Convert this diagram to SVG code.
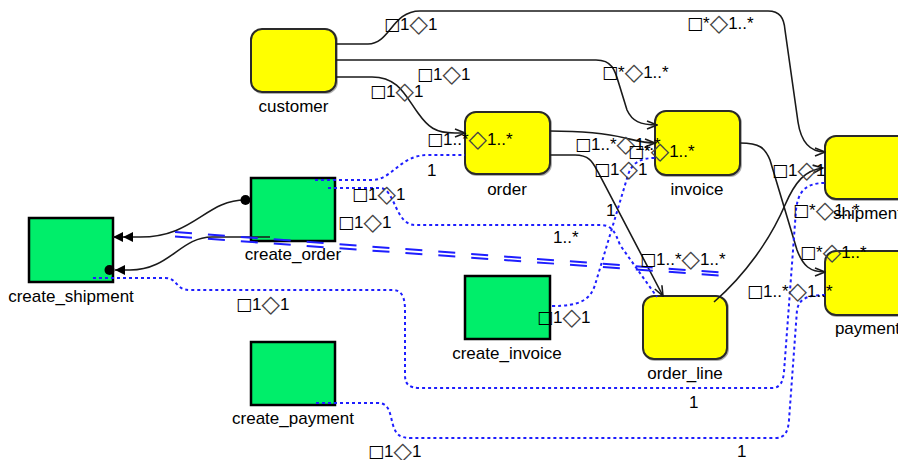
<svg xmlns="http://www.w3.org/2000/svg" width="898" height="460" viewBox="0 0 898 460">
  <style>
    text { font-family: "Liberation Sans", Arial, "DejaVu Sans", sans-serif; font-size: 17px; fill: #000; }
    .name { text-anchor: middle; }
    .sq { font-family: "DejaVu Sans", sans-serif; }
    .dm { font-family: "DejaVu Sans", sans-serif; font-size: 24px; fill: #444; }
    .entity { fill: #ffff00; stroke: #2a2a2a; stroke-width: 2; }
    .shadow { fill: none; stroke: #b0b0b0; stroke-width: 2; }
    .process { fill: #00ee6a; stroke: #000; stroke-width: 2.5; }
    .rel { fill: none; stroke: #1a1a1a; stroke-width: 1.6; }
    .flow { fill: none; stroke: #1e1eff; stroke-width: 2; stroke-dasharray: 3 3; }
    .pair { fill: none; stroke: #1e1eff; stroke-width: 2; stroke-dasharray: 17 16; }
  </style>
  <defs>
    <marker id="open" viewBox="0 0 12 10" refX="11" refY="5" markerWidth="12" markerHeight="10" markerUnits="userSpaceOnUse" orient="auto">
      <path d="M1,1 L11,5 L1,9" fill="none" stroke="#1a1a1a" stroke-width="1.6"/>
    </marker>
    <marker id="double" viewBox="0 0 20 11" refX="20" refY="5.5" markerWidth="20" markerHeight="11" markerUnits="userSpaceOnUse" orient="auto">
      <path d="M0,0.5 L10,5.5 L0,10.5 Z M10,0.5 L20,5.5 L10,10.5 Z" fill="#000"/>
    </marker>
    <marker id="dotarrow" viewBox="0 0 21 11" refX="10" refY="5.5" markerWidth="21" markerHeight="11" markerUnits="userSpaceOnUse" orient="auto">
      <path d="M0,0.5 L10,5.5 L0,10.5 Z" fill="#000"/>
      <circle cx="15.5" cy="5.5" r="5" fill="#000"/>
    </marker>
    <marker id="dot" viewBox="0 0 11 11" refX="5.5" refY="5.5" markerWidth="11" markerHeight="11" markerUnits="userSpaceOnUse">
      <circle cx="5.5" cy="5.5" r="5" fill="#000"/>
    </marker>
  </defs>

  <rect width="898" height="460" fill="#fff"/>

  <!-- entities -->
  <g id="customer">
    <rect class="shadow" x="252" y="30" width="85" height="63" rx="11"/>
    <rect class="entity" x="251" y="29" width="85" height="63" rx="11"/>
    <text class="name" x="293.5" y="112">customer</text>
  </g>
  <g id="order">
    <rect class="shadow" x="466" y="113" width="85" height="62" rx="11"/>
    <rect class="entity" x="465" y="112" width="85" height="62" rx="11"/>
    <text class="name" x="507" y="195">order</text>
  </g>
  <g id="invoice">
    <rect class="shadow" x="656" y="112" width="85" height="64" rx="11"/>
    <rect class="entity" x="655" y="111" width="85" height="64" rx="11"/>
    <text class="name" x="697" y="195">invoice</text>
  </g>
  <g id="shipment">
    <rect class="shadow" x="826" y="137" width="85" height="63" rx="11"/>
    <rect class="entity" x="825" y="136" width="85" height="63" rx="11"/>
    <text class="name" x="867.5" y="219">shipment</text>
  </g>
  <g id="payment">
    <rect class="shadow" x="826" y="252" width="85" height="64" rx="11"/>
    <rect class="entity" x="825" y="251" width="85" height="64" rx="11"/>
    <text class="name" x="867.5" y="334">payment</text>
  </g>
  <g id="order_line">
    <rect class="shadow" x="644" y="297" width="84" height="63" rx="11"/>
    <rect class="entity" x="643" y="296" width="84" height="63" rx="11"/>
    <text class="name" x="685" y="379">order_line</text>
  </g>

  <!-- processes -->
  <g id="create_order">
    <rect class="process" x="251" y="178" width="84" height="63"/>
    <text class="name" x="293" y="260">create_order</text>
  </g>
  <g id="create_shipment">
    <rect class="process" x="29" y="218" width="84" height="64"/>
    <text class="name" x="71" y="302">create_shipment</text>
  </g>
  <g id="create_invoice">
    <rect class="process" x="465" y="276" width="85" height="63"/>
    <text class="name" x="507" y="359">create_invoice</text>
  </g>
  <g id="create_payment">
    <rect class="process" x="251" y="342" width="84" height="63"/>
    <text class="name" x="293" y="424">create_payment</text>
  </g>

  <!-- connectors -->
  <g id="connectors">
    <!-- relationships between entities -->
    <path class="rel" marker-end="url(#open)" d="M336,44 L368,44 C390,44 392,11 420,11 L768,11 C780,11 784,18 785,30 L798,122 C801,142 810,152 825,152"/>
    <path class="rel" marker-end="url(#open)" d="M336,60 L596,60 C612,60 615,70 619,84 L627,110 C632,121 640,125 657,125"/>
    <path class="rel" marker-end="url(#open)" d="M336,77 L372,77 C398,77 405,95 418,113 C428,127 435,133 455,133 L465,133"/>
    <path class="rel" marker-end="url(#open)" d="M550,131 C585,131 605,133 625,138 C638,141 645,143 655,143"/>
    <path class="rel" marker-end="url(#open)" d="M550,155 L575,155 C590,155 593,163 598,172 L663,296"/>
    <path class="rel" marker-end="url(#open)" d="M740,143 C760,143 765,148 770,160 L797,250 C803,266 810,272 825,272"/>
    <path class="rel" marker-end="url(#open)" d="M714,302 C745,275 770,240 785,205 C795,182 805,170 823,168"/>

    <!-- create_order to create_shipment -->
    <path class="rel" marker-start="url(#dot)" marker-end="url(#double)" d="M245.5,200 C205,200 195,237 140,237 L113,237"/>
    <path class="rel" marker-end="url(#dotarrow)" d="M270,237 L212,237 C180,237 170,270 130,270 L115,270"/>

    <!-- paired dashed line -->
    <line class="pair" x1="175" y1="232" x2="727" y2="273"/>
    <line class="pair" x1="175" y1="236.5" x2="727" y2="276"/>

    <!-- data flows -->
    <path class="flow" d="M315,180 L372,180 C392,180 400,155 428,155 L465,155"/>
    <path class="flow" d="M328,188 L380,188 C395,188 395,225 415,225 L600,225 C612,225 615,232 620,245 L657,297"/>
    <path class="flow" d="M552,306 C580,306 590,300 595,285 L628,175 C632,163 640,158 655,158"/>
    <path class="flow" d="M93,278 L165,278 C178,278 175,290 190,290 L393,290 C403,290 405,300 405,310 L405,375 C405,385 410,388 420,388 L772,388 C780,388 783,382 784,372 L796,210 C798,192 805,183 825,183"/>
    <path class="flow" d="M316,403 L378,403 C390,403 390,415 393,425 C396,435 400,438 412,438 L775,438 C785,438 788,432 789,420 L797,310 C799,300 805,295 825,295"/>

    <!-- cardinality labels -->
    <text x="384" y="30"><tspan class="sq">□</tspan>1<tspan class="dm" dy="2">◇</tspan><tspan dy="-2">1</tspan></text>
    <text x="687" y="29"><tspan class="sq">□</tspan>*<tspan class="dm" dy="2">◇</tspan><tspan dy="-2">1..*</tspan></text>
    <text x="417" y="80"><tspan class="sq">□</tspan>1<tspan class="dm" dy="2">◇</tspan><tspan dy="-2">1</tspan></text>
    <text x="602" y="78"><tspan class="sq">□</tspan>*<tspan class="dm" dy="2">◇</tspan><tspan dy="-2">1..*</tspan></text>
    <text x="370" y="97"><tspan class="sq">□</tspan>1<tspan class="dm" dy="2">◇</tspan><tspan dy="-2">1</tspan></text>
    <text x="427" y="145"><tspan class="sq">□</tspan>1..*<tspan class="dm" dy="2">◇</tspan><tspan dy="-2">1..*</tspan></text>
    <text x="427" y="176">1</text>
    <text x="352" y="200"><tspan class="sq">□</tspan>1<tspan class="dm" dy="2">◇</tspan><tspan dy="-2">1</tspan></text>
    <text x="338" y="228"><tspan class="sq">□</tspan>1<tspan class="dm" dy="2">◇</tspan><tspan dy="-2">1</tspan></text>
    <text x="553" y="243">1..*</text>
    <text x="575" y="150"><tspan class="sq">□</tspan>1..*<tspan class="dm" dy="2">◇</tspan><tspan dy="-2">1..*</tspan></text>
    <text x="628" y="157"><tspan class="sq">□</tspan>*<tspan class="dm" dy="2">◇</tspan><tspan dy="-2">1..*</tspan></text>
    <text x="594" y="175"><tspan class="sq">□</tspan>1<tspan class="dm" dy="2">◇</tspan><tspan dy="-2">1</tspan></text>
    <text x="606" y="216">1</text>
    <text x="640" y="265"><tspan class="sq">□</tspan>1..*<tspan class="dm" dy="2">◇</tspan><tspan dy="-2">1..*</tspan></text>
    <text x="772" y="176"><tspan class="sq">□</tspan>1<tspan class="dm" dy="2">◇</tspan><tspan dy="-2">1</tspan></text>
    <text x="793" y="216"><tspan class="sq">□</tspan>*<tspan class="dm" dy="2">◇</tspan><tspan dy="-2">1..*</tspan></text>
    <text x="800" y="258"><tspan class="sq">□</tspan>*<tspan class="dm" dy="2">◇</tspan><tspan dy="-2">1..*</tspan></text>
    <text x="747" y="297"><tspan class="sq">□</tspan>1..*<tspan class="dm" dy="2">◇</tspan><tspan dy="-2">1..*</tspan></text>
    <text x="537" y="323"><tspan class="sq">□</tspan>1<tspan class="dm" dy="2">◇</tspan><tspan dy="-2">1</tspan></text>
    <text x="236" y="310"><tspan class="sq">□</tspan>1<tspan class="dm" dy="2">◇</tspan><tspan dy="-2">1</tspan></text>
    <text x="689" y="408">1</text>
    <text x="368" y="457"><tspan class="sq">□</tspan>1<tspan class="dm" dy="2">◇</tspan><tspan dy="-2">1</tspan></text>
    <text x="737" y="457">1</text>
  </g>
</svg>
